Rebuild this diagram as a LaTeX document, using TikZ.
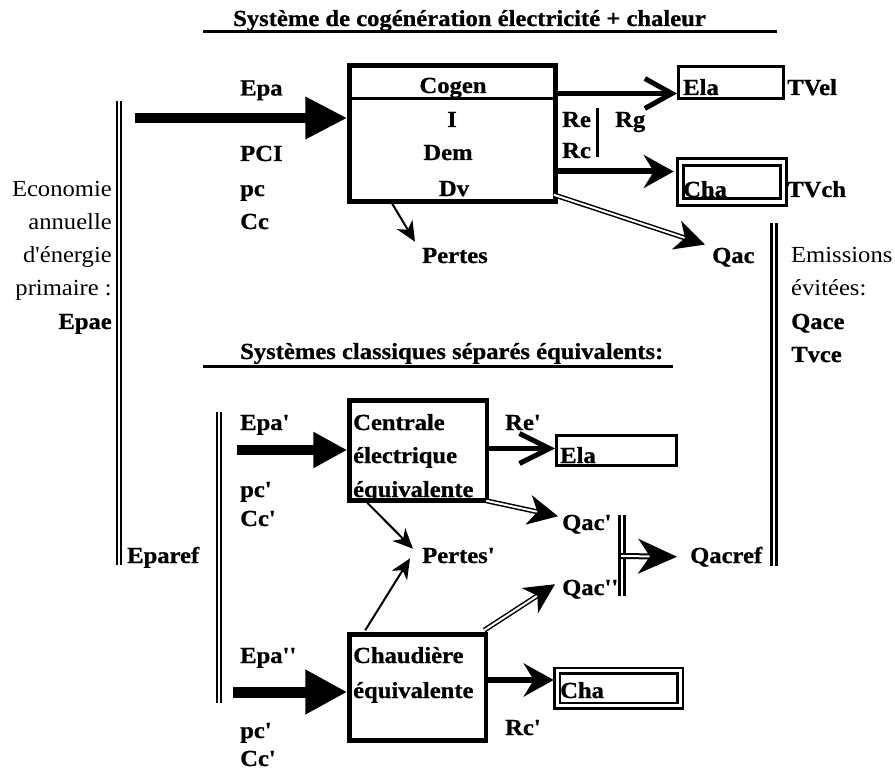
\documentclass[tikz,border=0pt]{standalone}
\usepackage{fontspec}
\setmainfont[FakeStretch=1.07, Ligatures=TeXOff, BoldFeatures={FakeBold=0.8}]{Liberation Serif}
\usetikzlibrary{arrows.meta,calc}
\newcommand\myfs{\fontsize{23}{27}\selectfont}
\begin{document}
\begin{tikzpicture}[x=1pt,y=-1pt,
  txt/.style={anchor=base west, inner sep=0pt, font=\myfs\bfseries},
  ctxt/.style={anchor=base, inner sep=0pt, font=\myfs\bfseries},
  rtxt/.style={anchor=base east, inner sep=0pt, font=\myfs},
  ltxt/.style={anchor=base west, inner sep=0pt, font=\myfs},
  box/.style={draw, line width=4.5pt, inner sep=0pt},
  tbox/.style={draw, line width=3pt, inner sep=0pt},
  dbox/.style={draw, double=white, double distance=3.5pt, line width=3pt, inner sep=0pt},
  vdbl/.style={draw, double=white, double distance=1.6pt, line width=2pt},
  vdblB/.style={draw, double=white, double distance=2pt, line width=3pt},
  dblarr/.style={draw, double=white, double distance=2pt, line width=1.5pt},
  barb/.style={-{Straight Barb[length=27pt,width=30pt,line width=5pt]}},
  stl/.style={-{Stealth[length=30pt,width=33pt,inset=10pt]}},
  smallstl/.style={-{Stealth[length=20pt,width=18pt,inset=6pt]}},
  thin/.style={line width=2pt},
]
\useasboundingbox (0,0) rectangle (895,778);

% ---------- titles ----------
\node[txt] (title1) at (233,26) {Système de cogénération électricité + chaleur};
\draw[line width=3pt] (203,32) -- (777,32);
\node[txt] (title2) at (240,359) {Systèmes classiques séparés équivalents:};
\draw[line width=3pt] (203,366.5) -- (673,366.5);

% ---------- upper system ----------
\node[box, minimum width=206pt, minimum height=136pt] (cogen) at (452.5,133.5) {};
\draw[line width=3pt] (cogen.west |- 0,98.5) -- (cogen.east |- 0,98.5);
\node[ctxt] (tcogen) at (453,93) {Cogen};
\node[ctxt] (ti) at (452,127) {I};
\node[ctxt] (tdem) at (448,160) {Dem};
\node[ctxt] (tdv) at (454,196) {Dv};

\node[txt] (epa) at (240,95.5) {Epa};
\node[txt] (pci) at (240,161) {PCI};
\node[txt] (pc) at (240,196) {pc};
\node[txt] (cc) at (240,229) {Cc};
\node[txt] (pertes) at (422,263) {Pertes};

\node[tbox, minimum width=105pt, minimum height=32pt] (ela) at (731,82.5) {};
\node[txt] (tela) at (683,95) {Ela};
\node[txt] (tvel) at (787,95) {TVel};
\node[txt] (re) at (562,127) {Re};
\node[txt] (rc) at (562,158) {Rc};
\node[txt] (rg) at (615,127) {Rg};
\draw[line width=3pt] (597,108) -- (597,157);

\node[dbox, minimum width=103pt, minimum height=40pt] (cha) at (731.75,182) {};
\node[txt] (tcha) at (683,197) {Cha};
\node[txt] (tvch) at (787,197) {TVch};
\node[txt] (qac) at (712,263) {Qac};

\coordinate (epaS) at (135,118);
\draw[line width=10pt, -{Triangle[length=42pt,width=40pt]}] (epaS) -- (cogen.west |- epaS);
\draw[line width=5pt, barb] (cogen.east |- 0,93.5) -- (ela.west |- 0,93.5);
\draw[line width=6pt, stl, shorten >=5pt] (cogen.east |- 0,171.5) -- (cha.west |- 0,171.5);
\draw[dblarr, -{Stealth[length=30pt,width=30pt,inset=9pt]}] ($(cogen.south east)+(-4,-9)$) -- ($(qac.north west)+(-7,-3)$);
\draw[thin, smallstl] ($(cogen.south west)+(45,0)$) -- ($(pertes.north west)+(-7,-6)$);

% side texts
\node[rtxt] (eco1) at (112,197) {Economie};
\node[rtxt] (eco2) at (112,230) {annuelle};
\node[rtxt] (eco3) at (112,263) {d'énergie};
\node[rtxt] (eco4) at (112,296) {primaire :};
\node[rtxt, font=\myfs\bfseries] (epae) at (112,329) {Epae};
\draw[vdbl] (119,101) -- (119,565);

\node[ltxt] (em1) at (791,263) {Emissions};
\node[ltxt] (em2) at (791,296) {évitées:};
\node[txt] (qace) at (791,329) {Qace};
\node[txt] (tvce) at (791,362) {Tvce};
\draw[vdblB] (774,223) -- (774,566);

% ---------- lower systems ----------
\node[txt] (eparef) at (127,563) {Eparef};
\draw[vdbl] (219,412) -- (219,703);

\node[box, minimum width=137.5pt, minimum height=100pt] (centrale) at (418.25,450.5) {};
\node[txt] (c1) at (353,430) {Centrale};
\node[txt] (c2) at (353,463) {électrique};
\node[txt] (c3) at (353,497) {équivalente};

\node[txt] (epa1) at (240,430) {Epa'};
\node[txt] (pc1) at (240,497) {pc'};
\node[txt] (cc1) at (240,526) {Cc'};
\node[txt] (re1) at (505,430) {Re'};

\node[tbox, minimum width=120pt, minimum height=30pt] (ela2) at (616.5,450) {};
\node[txt] (tela2) at (560,463) {Ela};

\node[txt] (pertes1) at (422,563) {Pertes'};
\node[txt] (qac1) at (562,530) {Qac'};
\node[txt] (qac2) at (562,595) {Qac''};
\node[txt] (qacref) at (690,563) {Qacref};
\draw[vdblB] (622,515) -- (622,596);

\node[box, minimum width=136.5pt, minimum height=106pt] (chaud) at (417.75,687.5) {};
\node[txt] (h1) at (353,663) {Chaudière};
\node[txt] (h2) at (353,698) {équivalente};

\node[txt] (epa2) at (240,663) {Epa''};
\node[txt] (pc2) at (240,738) {pc'};
\node[txt] (cc2) at (240,766) {Cc'};
\node[txt] (rc1) at (505,735) {Rc'};

\node[dbox, double distance=3pt, line width=2.5pt, minimum width=123pt, minimum height=35pt] (cha2) at (618.5,688) {};
\node[txt] (tcha2) at (560,698) {Cha};

% lower arrows
\coordinate (epa1S) at (237,450);
\draw[line width=10pt, -{Triangle[length=34pt,width=34pt]}] (epa1S) -- (centrale.west |- epa1S);
\draw[line width=4.5pt, -{Straight Barb[length=30pt,width=30pt,line width=5pt]}] (centrale.east |- 0,448.5) -- (ela2.west |- 0,448.5);
\draw[dblarr, -{Stealth[length=30pt,width=30pt,inset=9pt]}] ($(centrale.south east)+(-3,-2)$) -- ($(qac1.west)+(-4,-8)$);
\draw[thin, smallstl] ($(centrale.south west)+(20,0)$) -- ($(pertes1.north west)+(-9,1)$);
\draw[thin, smallstl] ($(chaud.north west)+(18,-2)$) -- ($(pertes1.south west)+(-12,-5)$);
\draw[dblarr, -{Stealth[length=30pt,width=30pt,inset=9pt]}] ($(chaud.north east)+(-4,-2)$) -- ($(qac2.west)+(-7,-5)$);
\draw[dblarr, line width=2pt, -{Stealth[length=39pt,width=35pt,inset=12pt]}] (621,556) -- ($(qacref.west)+(-13,0)$);

\coordinate (epa2S) at (233,692);
\draw[line width=11pt, -{Triangle[length=42pt,width=42pt]}] (epa2S) -- (chaud.west |- epa2S);
\draw[line width=6pt, stl, shorten >=2pt] (chaud.east |- 0,680) -- (cha2.west |- 0,680);
\end{tikzpicture}
\end{document}
